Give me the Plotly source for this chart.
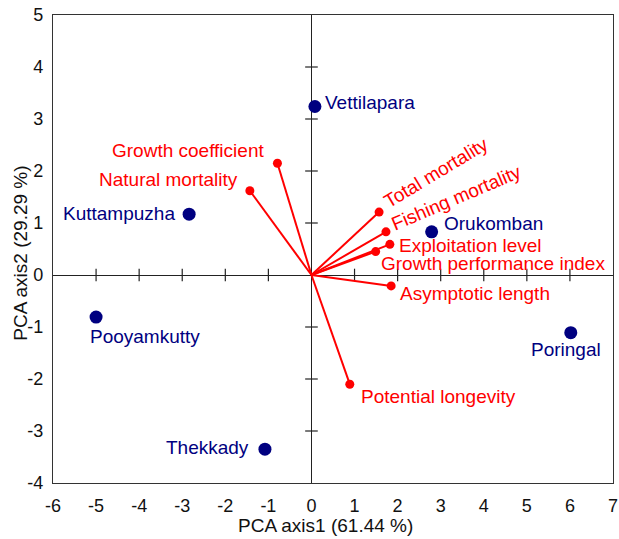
import plotly.graph_objects as go

# ---- data ----
site_names = ["Vettilapara", "Kuttampuzha", "Orukomban", "Pooyamkutty", "Thekkady", "Poringal"]
site_x = [0.08, -2.84, 2.79, -5.00, -1.08, 6.02]
site_y = [3.24, 1.17, 0.83, -0.81, -3.35, -1.11]

var_names = ["Growth coefficient", "Natural mortality", "Total mortality", "Fishing mortality",
             "Exploitation level", "Growth performance index", "Asymptotic length", "Potential longevity"]
var_x = [-0.79, -1.43, 1.57, 1.73, 1.82, 1.49, 1.85, 0.89]
var_y = [2.15, 1.62, 1.21, 0.83, 0.59, 0.45, -0.21, -2.10]

x_ticks = [-6, -5, -4, -3, -2, -1, 0, 1, 2, 3, 4, 5, 6, 7]
y_ticks = [-4, -3, -2, -1, 0, 1, 2, 3, 4, 5]
x_title = "PCA axis1 (61.44 %)"
y_title = "PCA axis2 (29.29 %)"

# ---- label placement (layout only): anchor, x shift px, y shift px, angle ----
site_lab = {
    "Vettilapara": ("left", 9, 4, 0),
    "Kuttampuzha": ("right", -13, 1, 0),
    "Orukomban": ("left", 11, 8, 0),
    "Pooyamkutty": ("left", -7, -19, 0),
    "Thekkady": ("right", -15, 2, 0),
    "Poringal": ("center", -5, -17, 0),
}
var_lab = {
    "Growth coefficient": ("right", -12, 13, 0),
    "Natural mortality": ("right", -11, 11, 0),
    "Total mortality": ("center", 57, 40, -31),
    "Fishing mortality": ("center", 71, 34, -23),
    "Exploitation level": ("left", 8, -1, 0),
    "Growth performance index": ("left", 4, -12, 0),
    "Asymptotic length": ("left", 8, -8, 0),
    "Potential longevity": ("left", 10, -12, 0),
}

RED = "#ff0000"
NAVY = "#000080"
FONT = "Liberation Sans, Arial, sans-serif"
INK = "#222222"

fig = go.Figure()

# cross ticks on the zero lines
inner_x = [t for t in x_ticks if t not in (0, x_ticks[0], x_ticks[-1])]
inner_y = [t for t in y_ticks if t not in (0, y_ticks[0], y_ticks[-1])]
fig.add_trace(go.Scatter(x=inner_x, y=[0] * len(inner_x), mode="markers",
                         marker=dict(symbol="line-ns-open", size=9, color=INK,
                                     line=dict(color=INK, width=1.2)),
                         hoverinfo="skip", showlegend=False))
fig.add_trace(go.Scatter(x=[0] * len(inner_y), y=inner_y, mode="markers",
                         marker=dict(symbol="line-ew-open", size=9, color=INK,
                                     line=dict(color=INK, width=1.2)),
                         hoverinfo="skip", showlegend=False))

# vectors
lx, ly = [], []
for vx, vy in zip(var_x, var_y):
    lx += [0, vx, None]
    ly += [0, vy, None]
fig.add_trace(go.Scatter(x=lx, y=ly, mode="lines", line=dict(color=RED, width=2),
                         hoverinfo="skip", showlegend=False))
fig.add_trace(go.Scatter(x=var_x, y=var_y, mode="markers", text=var_names,
                         marker=dict(color=RED, size=9), showlegend=False))

# sites
fig.add_trace(go.Scatter(x=site_x, y=site_y, mode="markers", text=site_names,
                         marker=dict(color=NAVY, size=13), showlegend=False))

for n, x, y in zip(var_names, var_x, var_y):
    a, dx, dy, ang = var_lab[n]
    fig.add_annotation(x=x, y=y, text=n, showarrow=False, xanchor=a, yanchor="middle",
                       xshift=dx, yshift=dy, textangle=ang, borderpad=0,
                       font=dict(family=FONT, size=19, color=RED))
for n, x, y in zip(site_names, site_x, site_y):
    a, dx, dy, ang = site_lab[n]
    fig.add_annotation(x=x, y=y, text=n, showarrow=False, xanchor=a, yanchor="middle",
                       xshift=dx, yshift=dy, textangle=ang, borderpad=0,
                       font=dict(family=FONT, size=19, color=NAVY))

# axis titles
fig.add_annotation(text=x_title, xref="paper", yref="paper", x=0.486, y=-0.09,
                   xanchor="center", yanchor="middle", showarrow=False,
                   font=dict(family=FONT, size=19, color="#111"))
fig.add_annotation(text=y_title, xref="paper", yref="paper", x=-0.057, y=0.49,
                   xanchor="center", yanchor="middle", showarrow=False, textangle=-90,
                   font=dict(family=FONT, size=19, color="#111"))

axis_common = dict(showgrid=False, showline=True, mirror=True, linecolor="#333", linewidth=1.3,
                   zeroline=True, zerolinecolor=INK, zerolinewidth=1.3,
                   ticks="", tickfont=dict(family=FONT, size=18, color="#111"))
fig.update_xaxes(range=[x_ticks[0], x_ticks[-1]], tickvals=x_ticks,
                 ticktext=[str(t) for t in x_ticks], ticklabelstandoff=6, **axis_common)
fig.update_yaxes(range=[y_ticks[0], y_ticks[-1]], tickvals=y_ticks,
                 ticktext=[str(t) for t in y_ticks], ticklabelstandoff=5, **axis_common)

fig.update_layout(width=619, height=539, margin=dict(l=53, r=6, t=15, b=56, autoexpand=False),
                  plot_bgcolor="white", paper_bgcolor="white", showlegend=False)

fig.write_html("out.html", config={"displayModeBar": False},
               post_script="document.body.style.margin='0';document.body.style.padding='0';")
